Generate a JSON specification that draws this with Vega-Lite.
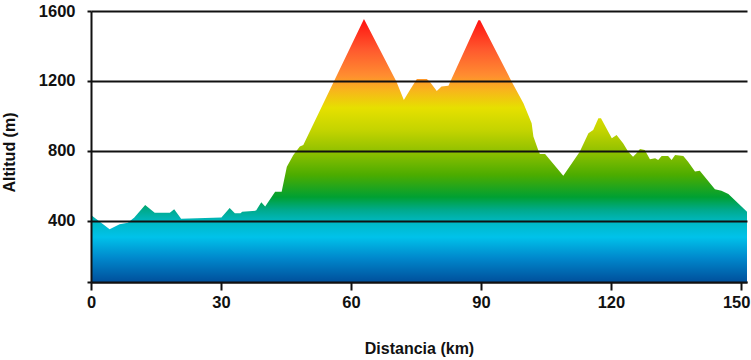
{
  "$schema": "https://vega.github.io/schema/vega-lite/v6.json",
  "width": 656,
  "height": 271,
  "autosize": {"type": "none"},
  "padding": {"left": 91, "top": 11, "right": 4, "bottom": 78},
  "background": "white",
  "config": {"view": {"stroke": null}},
  "data": {
    "values": [
      {"km": 0, "alt": 434}, {"km": 4.3, "alt": 353}, {"km": 6.6, "alt": 381}, {"km": 8.5, "alt": 390},
      {"km": 10, "alt": 420}, {"km": 12.5, "alt": 491}, {"km": 14.7, "alt": 447}, {"km": 18.2, "alt": 447},
      {"km": 19.2, "alt": 467}, {"km": 20.8, "alt": 413}, {"km": 30.1, "alt": 419}, {"km": 32, "alt": 474},
      {"km": 33.2, "alt": 444}, {"km": 34.5, "alt": 444}, {"km": 34.9, "alt": 453}, {"km": 38.1, "alt": 459},
      {"km": 39.3, "alt": 507}, {"km": 40.2, "alt": 482}, {"km": 42.5, "alt": 567}, {"km": 44, "alt": 567},
      {"km": 45.2, "alt": 710}, {"km": 46.7, "alt": 777}, {"km": 48.2, "alt": 825}, {"km": 49, "alt": 834},
      {"km": 63.0, "alt": 1554}, {"km": 70.5, "alt": 1196}, {"km": 72.2, "alt": 1091}, {"km": 73.6, "alt": 1149},
      {"km": 75.2, "alt": 1211}, {"km": 77.5, "alt": 1211}, {"km": 78.2, "alt": 1196}, {"km": 79.8, "alt": 1143},
      {"km": 80.9, "alt": 1168}, {"km": 82.5, "alt": 1173}, {"km": 83.2, "alt": 1211}, {"km": 89.4, "alt": 1547},
      {"km": 89.8, "alt": 1547}, {"km": 97.1, "alt": 1196}, {"km": 99.8, "alt": 1073}, {"km": 101.7, "alt": 958},
      {"km": 102.1, "alt": 882}, {"km": 103.2, "alt": 806}, {"km": 103.6, "alt": 783}, {"km": 104.8, "alt": 783},
      {"km": 109, "alt": 659}, {"km": 112.8, "alt": 796}, {"km": 114.8, "alt": 901}, {"km": 115.9, "alt": 920},
      {"km": 117.1, "alt": 987}, {"km": 117.7, "alt": 987}, {"km": 120.2, "alt": 872}, {"km": 121.3, "alt": 891},
      {"km": 122.8, "alt": 844}, {"km": 124, "alt": 796}, {"km": 125.1, "alt": 767}, {"km": 125.9, "alt": 787},
      {"km": 126.7, "alt": 811}, {"km": 127.8, "alt": 806}, {"km": 129, "alt": 753}, {"km": 130.2, "alt": 758},
      {"km": 130.9, "alt": 749}, {"km": 131.7, "alt": 771}, {"km": 133.2, "alt": 771}, {"km": 134, "alt": 749},
      {"km": 134.8, "alt": 777}, {"km": 136.7, "alt": 771}, {"km": 137.8, "alt": 739}, {"km": 139.4, "alt": 682},
      {"km": 140.5, "alt": 687}, {"km": 144, "alt": 581}, {"km": 145.5, "alt": 573}, {"km": 147.1, "alt": 554},
      {"km": 151.4, "alt": 453}
    ]
  },
  "mark": {
    "type": "area",
    "clip": true,
    "color": {
      "gradient": "linear",
      "x1": 0, "y1": 1, "x2": 0, "y2": 0,
      "stops": [
        {"offset": 0, "color": "#00509c"},
        {"offset": 0.091, "color": "#0088cc"},
        {"offset": 0.171, "color": "#00c2ea"},
        {"offset": 0.228, "color": "#00b8c4"},
        {"offset": 0.274, "color": "#00aa8c"},
        {"offset": 0.323, "color": "#00a032"},
        {"offset": 0.407, "color": "#4cac00"},
        {"offset": 0.502, "color": "#94c200"},
        {"offset": 0.578, "color": "#c4d400"},
        {"offset": 0.662, "color": "#e6e000"},
        {"offset": 0.73, "color": "#f8b41c"},
        {"offset": 0.787, "color": "#ff8c30"},
        {"offset": 0.882, "color": "#ff5a2e"},
        {"offset": 1, "color": "#ff1010"}
      ]
    }
  },
  "encoding": {
    "x": {
      "field": "km",
      "type": "quantitative",
      "scale": {"domain": [0, 151.4], "nice": false, "zero": false},
      "axis": {
        "title": "Distancia (km)",
        "values": [0, 30, 60, 90, 120, 150],
        "grid": false,
        "domainColor": "#111111",
        "domainWidth": 2,
        "tickColor": "#111111",
        "tickWidth": 2,
        "tickSize": 8,
        "labelFont": "Liberation Sans, Arial, sans-serif",
        "labelFontWeight": "bold",
        "labelFontSize": 16.5,
        "labelColor": "#111111",
        "labelPadding": 4,
        "labelFlush": false,
        "labelAlign": {"condition": {"test": "datum.value == 150", "value": "right"}, "value": "center"},
        "labelOffset": {"condition": {"test": "datum.value == 150", "value": 9}, "value": 0},
        "titleFont": "Liberation Sans, Arial, sans-serif",
        "titleFontWeight": "bold",
        "titleFontSize": 16,
        "titleColor": "#111111",
        "titlePadding": 30
      }
    },
    "y": {
      "field": "alt",
      "type": "quantitative",
      "scale": {"domain": [51, 1600], "nice": false, "zero": false},
      "axis": {
        "title": "Altitud (m)",
        "values": [51, 400, 800, 1200, 1600],
        "labelExpr": "datum.value < 100 ? '' : datum.label",
        "format": "d",
        "grid": true,
        "gridColor": "#111111",
        "gridWidth": 2,
        "gridOpacity": 1,
        "zindex": 1,
        "domainColor": "#111111",
        "domainWidth": 2,
        "tickColor": "#111111",
        "tickWidth": 2,
        "tickSize": 4,
        "labelFont": "Liberation Sans, Arial, sans-serif",
        "labelFontWeight": "bold",
        "labelFontSize": 16.5,
        "labelColor": "#111111",
        "labelPadding": 12,
        "labelFlush": false,
        "titleFont": "Liberation Sans, Arial, sans-serif",
        "titleFontWeight": "bold",
        "titleFontSize": 16,
        "titleColor": "#111111",
        "titleAngle": -90,
        "titleAlign": "center",
        "titleBaseline": "alphabetic",
        "titleX": -77,
        "titleY": 141
      }
    },
    "y2": {"datum": 51}
  }
}
